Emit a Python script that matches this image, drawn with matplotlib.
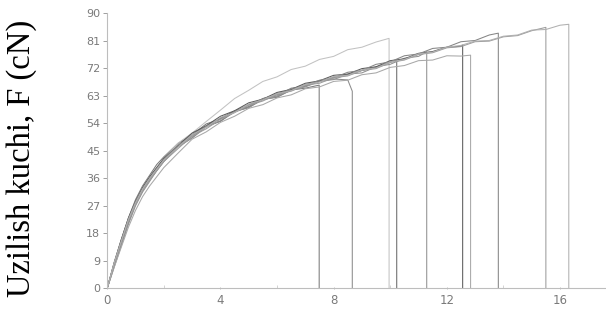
import matplotlib
matplotlib.use("Agg")
import matplotlib.pyplot as plt

# elongation grid (mm) shared by all the specimen records
strain = [0, 0.25, 0.5, 0.75, 1, 1.25, 1.5, 1.75, 2, 2.5, 3, 3.5, 4, 4.5, 5,
          5.5, 6, 6.5, 7, 7.5, 8, 8.5, 9, 9.5, 10, 10.5, 11, 11.5, 12, 12.5,
          13, 13.5, 14, 14.5, 15, 15.5, 16]

# force (cN) of each specimen on the grid, up to its break
f1 = [0, 8.5, 16, 23, 29, 33.5, 37, 40.5, 43, 47.4, 50.2, 53.8, 55.4, 57.9, 59.1,
      61.9, 62.5, 64.9, 65.5]
f2 = [0, 7.5, 14.5, 21.5, 27.5, 32, 35.5, 38.5, 41.5, 46.3, 49.2, 53.1, 54.7,
      58.1, 59.3, 62.1, 62.9, 65.5, 66.1, 67.9, 68.5, 68.2]
f3 = [0, 8, 15.5, 22.5, 28.5, 33, 36.5, 39.5, 42.5, 47.5, 50.8, 54.6, 58.3,
      62.1, 64.8, 67.7, 69.2, 71.6, 72.7, 74.9, 75.9, 78.1, 78.9, 80.6]
f4 = [0, 8, 15, 22, 28, 32.5, 36, 39, 42, 46.5, 50.3, 53.0, 55.7, 57.9, 60.1,
      61.9, 63.7, 64.9, 66.7, 67.7, 69.1, 69.9, 71.3, 72.3, 74.1]
f5 = [0, 7, 14, 21, 27, 31.5, 35, 38.5, 41.5, 46.3, 49.2, 52.8, 54.7, 57.7, 59.3,
      61.7, 62.7, 64.9, 65.9, 67.7, 68.3, 70.1, 70.5, 72.5, 73.3, 75.3, 75.9]
f6 = [0, 8.5, 16, 23, 28.5, 33, 36.5, 39.5, 42.5, 46.7, 50.8, 53.2, 56.3, 58.1,
      60.7, 61.9, 64.1, 65.1, 67.1, 67.9, 69.7, 70.1, 71.9, 72.5, 74.5, 75.1,
      76.9, 77.5, 78.9, 79.2]
f7 = [0, 7, 13.5, 20, 25.5, 30, 33.5, 36.5, 39.5, 44.2, 48.8, 51.2, 54.3, 56.3,
      58.9, 60.1, 62.3, 63.3, 65.3, 65.9, 67.7, 68.1, 69.9, 70.5, 72.3, 72.9,
      74.5, 74.7, 76.1, 76.0]
f8 = [0, 8, 15.5, 22.5, 28, 32.5, 36, 39, 42, 46.8, 49.7, 53.1, 54.7, 57.9, 59.5,
      62.1, 63.3, 65.3, 66.3, 68.1, 68.9, 70.7, 71.3, 73.3, 74.1, 76.1, 76.7,
      78.5, 78.9, 80.7, 81.1, 82.9]
f9 = [0, 8, 15, 22, 27.5, 32, 35.5, 38.5, 41.5, 45.7, 49.8, 52.2, 55.3, 57.5,
      59.9, 61.3, 63.5, 64.5, 66.5, 67.1, 68.9, 69.5, 71.3, 71.9, 73.9, 74.7,
      76.5, 77.1, 78.7, 79.1, 80.7, 80.9, 82.3, 82.7, 84.3]
f10 = [0, 8.5, 15.5, 22.5, 28, 32.5, 36, 39, 42, 46.2, 50.3, 52.7, 55.9, 57.5,
       60.3, 61.7, 63.7, 64.7, 66.7, 67.5, 69.3, 69.7, 71.5, 72.1, 74.1, 74.9,
       76.7, 77.3, 78.9, 79.5, 80.9, 81.1, 82.5, 82.9, 84.5, 84.7, 86.1]

forces = [f1, f2, f3, f4, f5, f6, f7, f8, f9, f10]
break_x = [7.49, 8.66, 9.96, 10.23, 11.29, 12.56, 12.84, 13.82, 15.50, 16.31]
break_f = [66.5, 64.5, 81.8, 74.7, 77.4, 79.6, 76.3, 83.5, 85.4, 86.4]

x_ticks = [0, 4, 8, 12, 16]
y_ticks = [0, 9, 18, 27, 36, 45, 54, 63, 72, 81, 90]

colors = ['#7a7a7a', '#8c8c8c', '#c2c2c2', '#6a6a6a', '#909090',
          '#5a5a5a', '#a8a8a8', '#858585', '#9c9c9c', '#b0b0b0']

fig = plt.figure(figsize=(6.06, 3.2), dpi=100)
ax = fig.add_axes([107.2 / 606, 31.7 / 320, (605.3 - 107.2) / 606, 275 / 320])

for f, bx, bf, c in zip(forces, break_x, break_f, colors):
    xs = strain[:len(f)] + [bx, bx]
    ys = f + [bf, 0]
    ax.plot(xs, ys, color=c, lw=0.75)

ax.set_xlim(0, 17.6)
ax.set_ylim(0, 90)
ax.set_xticks(x_ticks)
ax.set_xticks([2, 6, 10, 14], minor=True)
ax.set_yticks(y_ticks)

for side in ['top', 'right']:
    ax.spines[side].set_visible(False)
for side in ['left', 'bottom']:
    ax.spines[side].set_color('#bdbdbd')
    ax.spines[side].set_linewidth(0.8)

ax.tick_params(axis='y', colors='#a0a0a0', labelcolor='#7a7a7a',
               length=3, width=0.7, labelsize=8, pad=2)
ax.tick_params(axis='x', which='major', colors='#c0c0c0', labelcolor='#7a7a7a',
               length=2, width=0.7, labelsize=8.5, pad=3, direction='inout')
ax.tick_params(axis='x', which='minor', colors='#cccccc', length=2, width=0.6,
               direction='in')

fig.text(22 / 606, 0.505, 'Uzilish kuchi, F (cN)', rotation=90,
         ha='center', va='center', fontsize=23.5,
         family=['Liberation Serif', 'DejaVu Serif'], color='black')

fig.savefig('out.png', dpi=100)
